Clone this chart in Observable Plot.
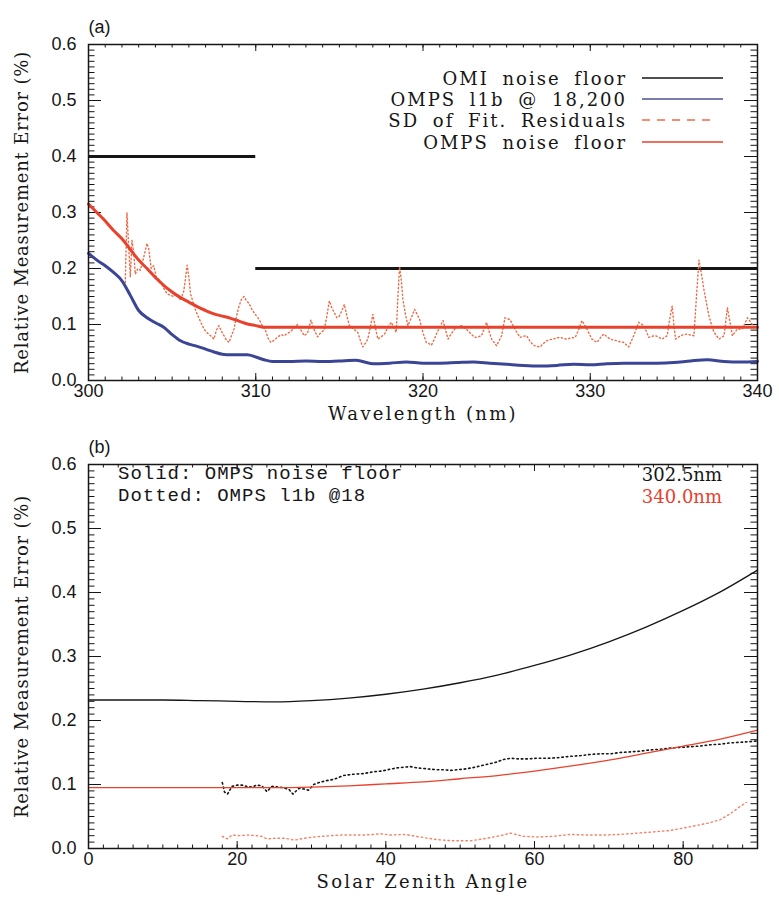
<!DOCTYPE html>
<html><head><meta charset="utf-8">
<script src="https://cdn.jsdelivr.net/npm/d3@7"></script>
<script src="https://cdn.jsdelivr.net/npm/@observablehq/plot@0.6"></script>
<style>
body{margin:0;background:#fff;}
#wrap{position:relative;width:779px;height:902px;overflow:hidden;}
#wrap svg{display:block;}
#overlay{position:absolute;left:0;top:0;pointer-events:none;}
</style></head><body><div id="wrap"></div>
<script>
// ---------- Panel (a) data ----------
const aXTicks = [300, 310, 320, 330, 340];
const yTicks = [0, 0.1, 0.2, 0.3, 0.4, 0.5, 0.6];

const omiStart = [300, 310];
const omiEnd = [310, 340];
const omiValue = [0.4, 0.2];

const floorWl = [300, 300.5, 301, 301.5, 302, 302.5, 303, 303.5, 304, 304.5, 305, 305.5, 306, 306.5, 307, 307.5, 308, 308.5, 309, 309.5, 310, 310.5, 311, 340];
const floorVal = [0.315, 0.300, 0.285, 0.268, 0.253, 0.234, 0.215, 0.200, 0.184, 0.170, 0.158, 0.148, 0.140, 0.132, 0.125, 0.119, 0.115, 0.111, 0.106, 0.101, 0.098, 0.095, 0.095, 0.095];

const l1bWl = [300, 300.5, 301, 301.5, 302, 302.5, 303, 303.5, 304, 304.5, 305, 305.5, 306, 306.5, 307, 307.5, 308, 308.5, 309, 309.5, 310, 310.5, 311, 311.5, 312, 313, 314, 315, 316, 317, 318, 319, 320, 321, 322, 323, 324, 325, 326, 327, 328, 329, 330, 331, 332, 333, 334, 335, 336, 337, 338, 339, 340];
const l1bVal = [0.227, 0.215, 0.205, 0.193, 0.178, 0.152, 0.125, 0.112, 0.103, 0.095, 0.082, 0.071, 0.065, 0.061, 0.056, 0.051, 0.047, 0.046, 0.046, 0.046, 0.042, 0.037, 0.034, 0.034, 0.034, 0.035, 0.034, 0.035, 0.036, 0.030, 0.031, 0.033, 0.031, 0.031, 0.032, 0.033, 0.031, 0.029, 0.027, 0.026, 0.027, 0.029, 0.028, 0.030, 0.031, 0.031, 0.031, 0.032, 0.035, 0.037, 0.034, 0.033, 0.034];

const residWl = [302.2, 302.3, 302.4, 302.5, 302.6, 302.7, 302.8, 302.95, 303.1, 303.3, 303.5, 303.6, 303.75, 303.9, 304.05, 304.3, 304.5, 304.7, 304.9, 305.1, 305.3, 305.5, 305.7, 305.9, 306.0, 306.1, 306.3, 306.4, 306.55, 306.7, 306.9, 307.1, 307.3, 307.5, 307.65, 307.8, 307.95, 308.1, 308.25, 308.4, 308.55, 308.7, 308.85, 309.0, 309.15, 309.3, 309.45, 309.6, 309.75, 309.9, 310.05, 310.2, 310.4, 310.6, 310.75, 310.9, 311.1, 311.3, 311.5, 311.7, 311.9, 312.1, 312.3, 312.5, 312.7, 312.9, 313.1, 313.3, 313.5, 313.7, 313.9, 314.1, 314.25, 314.4, 314.55, 314.7, 314.85, 315.0, 315.15, 315.3, 315.45, 315.6, 315.85, 316.1, 316.25, 316.4, 316.55, 316.7, 316.85, 317.0, 317.15, 317.3, 317.5, 317.7, 317.9, 318.1, 318.25, 318.4, 318.5, 318.6, 318.7, 318.8, 318.95, 319.1, 319.3, 319.5, 319.65, 319.8, 320.0, 320.2, 320.35, 320.5, 320.65, 320.8, 321.0, 321.2, 321.35, 321.5, 321.7, 321.9, 322.1, 322.3, 322.5, 322.7, 322.9, 323.1, 323.3, 323.5, 323.65, 323.8, 323.95, 324.1, 324.4, 324.7, 324.9, 325.05, 325.2, 325.35, 325.5, 325.65, 325.8, 326.0, 326.2, 326.4, 326.6, 326.8, 327.0, 327.2, 327.4, 327.6, 327.8, 328.0, 328.2, 328.4, 328.6, 328.85, 329.1, 329.3, 329.5, 329.65, 329.8, 329.95, 330.1, 330.25, 330.4, 330.6, 330.8, 331.0, 331.2, 331.4, 331.6, 331.8, 332.0, 332.15, 332.3, 332.45, 332.6, 332.75, 332.9, 333.05, 333.2, 333.35, 333.5, 333.7, 333.9, 334.1, 334.3, 334.45, 334.6, 334.75, 334.9, 335.0, 335.1, 335.25, 335.4, 335.6, 335.8, 336.0, 336.2, 336.35, 336.5, 336.65, 336.8, 336.95, 337.1, 337.25, 337.4, 337.55, 337.7, 337.85, 338.0, 338.1, 338.2, 338.35, 338.5, 338.65, 338.8, 338.95, 339.1, 339.25, 339.4, 339.6, 339.8, 340.0];
const residVal = [0.175, 0.300, 0.240, 0.185, 0.250, 0.230, 0.190, 0.200, 0.197, 0.220, 0.245, 0.235, 0.200, 0.205, 0.185, 0.178, 0.165, 0.155, 0.152, 0.150, 0.155, 0.143, 0.160, 0.206, 0.185, 0.155, 0.135, 0.126, 0.115, 0.105, 0.092, 0.085, 0.080, 0.074, 0.090, 0.098, 0.088, 0.080, 0.072, 0.068, 0.080, 0.092, 0.115, 0.133, 0.145, 0.150, 0.142, 0.138, 0.128, 0.121, 0.115, 0.109, 0.098, 0.088, 0.075, 0.068, 0.072, 0.077, 0.082, 0.080, 0.084, 0.088, 0.094, 0.100, 0.090, 0.080, 0.085, 0.108, 0.090, 0.078, 0.086, 0.090, 0.115, 0.142, 0.130, 0.121, 0.112, 0.115, 0.125, 0.136, 0.115, 0.098, 0.092, 0.086, 0.072, 0.060, 0.066, 0.074, 0.095, 0.118, 0.095, 0.074, 0.078, 0.083, 0.095, 0.104, 0.095, 0.086, 0.150, 0.203, 0.180, 0.145, 0.118, 0.098, 0.112, 0.127, 0.118, 0.109, 0.085, 0.068, 0.066, 0.063, 0.072, 0.083, 0.095, 0.107, 0.090, 0.074, 0.084, 0.092, 0.096, 0.098, 0.093, 0.089, 0.082, 0.077, 0.078, 0.080, 0.092, 0.104, 0.088, 0.074, 0.062, 0.080, 0.112, 0.110, 0.109, 0.100, 0.092, 0.084, 0.077, 0.079, 0.080, 0.070, 0.063, 0.061, 0.060, 0.066, 0.071, 0.073, 0.074, 0.076, 0.077, 0.075, 0.074, 0.076, 0.077, 0.090, 0.107, 0.100, 0.092, 0.083, 0.074, 0.071, 0.068, 0.076, 0.083, 0.078, 0.074, 0.072, 0.071, 0.069, 0.068, 0.064, 0.060, 0.070, 0.080, 0.092, 0.104, 0.101, 0.098, 0.088, 0.077, 0.079, 0.080, 0.077, 0.074, 0.077, 0.080, 0.110, 0.133, 0.100, 0.074, 0.077, 0.080, 0.082, 0.083, 0.081, 0.080, 0.150, 0.215, 0.190, 0.162, 0.138, 0.115, 0.100, 0.086, 0.080, 0.074, 0.077, 0.080, 0.105, 0.130, 0.105, 0.080, 0.086, 0.092, 0.092, 0.092, 0.102, 0.112, 0.104, 0.095, 0.097];

const legendA = ["OMI noise floor", "OMPS l1b @ 18,200", "SD of Fit. Residuals", "OMPS noise floor"];

// ---------- Panel (b) data ----------
const bXTicks = [0, 20, 40, 60, 80];
const szaSolid = [0, 5, 10, 15, 20, 25, 30, 35, 40, 45, 50, 55, 60, 65, 70, 75, 80, 85, 90];
const floor302 = [0.232, 0.232, 0.232, 0.231, 0.230, 0.229, 0.231, 0.235, 0.241, 0.249, 0.259, 0.271, 0.286, 0.303, 0.323, 0.346, 0.372, 0.401, 0.435];
const floor340 = [0.095, 0.095, 0.095, 0.095, 0.095, 0.095, 0.096, 0.098, 0.101, 0.104, 0.109, 0.114, 0.121, 0.129, 0.138, 0.149, 0.160, 0.171, 0.185];

const szaDot302 = [18.0, 18.3, 18.7, 19.3, 20.0, 20.7, 21.3, 22.0, 22.6, 23.3, 24.0, 24.7, 25.5, 26.2, 27.0, 27.5, 28.3, 29.0, 29.6, 30.3, 31.0, 32.0, 33.0, 34.3, 35.6, 37.0, 38.4, 39.5, 40.6, 41.5, 42.4, 43.3, 44.2, 45.1, 46.0, 46.9, 47.8, 48.7, 49.6, 50.5, 51.6, 52.7, 53.8, 54.9, 55.8, 56.8, 57.9, 59.0, 60.3, 61.7, 63.2, 64.8, 66.1, 67.5, 68.8, 70.2, 71.5, 72.9, 74.2, 75.5, 76.9, 78.2, 79.6, 80.9, 82.2, 83.6, 85.0, 86.3, 87.7, 89.0, 90.0];
const l1b302 = [0.103, 0.088, 0.085, 0.097, 0.099, 0.099, 0.097, 0.096, 0.099, 0.098, 0.089, 0.097, 0.096, 0.095, 0.092, 0.085, 0.094, 0.093, 0.091, 0.100, 0.103, 0.106, 0.108, 0.114, 0.116, 0.117, 0.120, 0.121, 0.124, 0.126, 0.127, 0.128, 0.126, 0.125, 0.124, 0.123, 0.123, 0.122, 0.123, 0.124, 0.126, 0.129, 0.132, 0.135, 0.139, 0.141, 0.140, 0.140, 0.141, 0.141, 0.142, 0.144, 0.145, 0.147, 0.148, 0.148, 0.150, 0.151, 0.152, 0.154, 0.155, 0.157, 0.158, 0.159, 0.160, 0.162, 0.163, 0.165, 0.166, 0.167, 0.168];

const szaDot340 = [18.0, 18.7, 19.3, 20.5, 21.5, 22.5, 23.3, 24.0, 25.2, 26.5, 27.7, 29.0, 30.3, 31.3, 32.6, 34.0, 35.4, 37.0, 38.4, 39.3, 40.6, 42.4, 44.6, 46.8, 49.0, 51.4, 53.6, 55.4, 56.8, 58.5, 60.3, 62.5, 64.8, 67.0, 69.3, 71.5, 73.8, 76.0, 78.2, 80.0, 81.8, 83.5, 85.0, 86.3, 87.7, 88.5];
const l1b340 = [0.019, 0.015, 0.021, 0.020, 0.021, 0.020, 0.019, 0.015, 0.016, 0.016, 0.013, 0.016, 0.018, 0.019, 0.020, 0.021, 0.021, 0.021, 0.022, 0.023, 0.021, 0.022, 0.018, 0.014, 0.012, 0.012, 0.016, 0.020, 0.024, 0.019, 0.018, 0.019, 0.022, 0.021, 0.021, 0.022, 0.024, 0.026, 0.028, 0.032, 0.036, 0.040, 0.045, 0.054, 0.066, 0.072];

const legendB = ["Solid: OMPS noise floor", "Dotted: OMPS l1b @18"];
const legendBWl = ["302.5nm", "340.0nm"];
const yTitle = "Relative Measurement Error (%)";

// ---------- layout / style ----------
const W = 779, ML = 88, MR = 22;
const A_H = 425, A_MT = 44, A_MB = 45;   // frame 44..380
const B_H = 477, B_MT = 39, B_MB = 54;   // frame 464..848 (page)
const plotW = W - ML - MR;
const ink = "#161616", red = "#e8412c", blue = "#3b4596", dotRed = "#ee6a44";
const sans = "'Liberation Sans', Arial, sans-serif";
const mono = "'Liberation Mono', 'DejaVu Sans Mono', monospace";
const serif = "'DejaVu Serif', serif";

function ticks(xMajor, xMinor, yMajor, yMinor, plotH) {
  const xl = 7, yl = 13;
  return [
    Plot.tickX(xMinor, {x: d => d, insetTop: plotH - xl / 2, stroke: ink}),
    Plot.tickX(xMinor, {x: d => d, insetBottom: plotH - xl / 2, stroke: ink}),
    Plot.tickX(xMajor, {x: d => d, insetTop: plotH - xl, stroke: ink}),
    Plot.tickX(xMajor, {x: d => d, insetBottom: plotH - xl, stroke: ink}),
    Plot.tickY(yMinor, {y: d => d, insetRight: plotW - yl / 2, stroke: ink}),
    Plot.tickY(yMinor, {y: d => d, insetLeft: plotW - yl / 2, stroke: ink}),
    Plot.tickY(yMajor, {y: d => d, insetRight: plotW - yl, stroke: ink}),
    Plot.tickY(yMajor, {y: d => d, insetLeft: plotW - yl, stroke: ink})
  ];
}
const yMinor = d3.range(0, 61).map(i => i / 100);

function axes(xTicks, xTitle, panel) {
  return [
    Plot.axisX(xTicks, {anchor: "bottom", tickSize: 0, tickPadding: 4, tickFormat: d => String(d), label: null, fill: ink}),
    Plot.axisY(yTicks, {anchor: "left", tickSize: 0, tickPadding: 12, tickFormat: d3.format(".1f"), label: null, fill: ink}),
    Plot.text([xTitle], {text: d => d, frameAnchor: "bottom", dy: 39, fontFamily: serif, fontSize: 18, fill: ink}),
    Plot.text([yTitle], {text: d => d, frameAnchor: "left", textAnchor: "middle", dx: -66, rotate: -90, fontFamily: serif, fontSize: 18, fill: ink}),
    Plot.text([panel], {text: d => d, frameAnchor: "top-left", dy: -24, textAnchor: "start", fontFamily: sans, fontSize: 18, fill: ink}),
    Plot.frame({stroke: ink, strokeWidth: 1.5})
  ];
}

const style = {fontFamily: sans, fontSize: "18px", color: ink, overflow: "visible", background: "transparent"};

// widen title lettering like the reference's vector font
function spaceTitles(svg, xTitle) {
  d3.select(svg).selectAll("text").each(function () {
    const t = this.textContent;
    if (t === xTitle) this.setAttribute("letter-spacing", "2.3px");
    if (t === yTitle) this.setAttribute("letter-spacing", "0.8px");
  });
}

// ---------- panel (a) ----------
const omiRows = omiValue.map((v, i) => ({x1: omiStart[i], x2: omiEnd[i], v}));
const floorRows = floorWl.map((x, i) => ({x, v: floorVal[i]}));
const l1bRows = l1bWl.map((x, i) => ({x, v: l1bVal[i]}));
const residRows = residWl.map((x, i) => ({x, v: residVal[i]}));

const chartA = Plot.plot({
  width: W, height: A_H, marginLeft: ML, marginRight: MR, marginTop: A_MT, marginBottom: A_MB,
  style,
  x: {domain: [300, 340]},
  y: {domain: [0, 0.6]},
  marks: [
    ...ticks(aXTicks, d3.range(300, 341, 1), yTicks, yMinor, A_H - A_MT - A_MB),
    Plot.ruleY(omiRows, {y: "v", x1: "x1", x2: "x2", stroke: ink, strokeWidth: 3.2}),
    Plot.line(residRows, {x: "x", y: "v", stroke: dotRed, strokeWidth: 1.4, strokeDasharray: "1.2,2.6"}),
    Plot.line(l1bRows, {x: "x", y: "v", stroke: blue, strokeWidth: 3, curve: "monotone-x"}),
    Plot.line(floorRows, {x: "x", y: "v", stroke: red, strokeWidth: 3, curve: "monotone-x"}),
    ...axes(aXTicks, "Wavelength (nm)", "(a)")
  ]
});
spaceTitles(chartA, "Wavelength (nm)");

// ---------- panel (b) ----------
const b302 = szaSolid.map((x, i) => ({x, v: floor302[i]}));
const b340 = szaSolid.map((x, i) => ({x, v: floor340[i]}));
const d302 = szaDot302.map((x, i) => ({x, v: l1b302[i]}));
const d340 = szaDot340.map((x, i) => ({x, v: l1b340[i]}));

const chartB = Plot.plot({
  width: W, height: B_H, marginLeft: ML, marginRight: MR, marginTop: B_MT, marginBottom: B_MB,
  style,
  x: {domain: [0, 90]},
  y: {domain: [0, 0.6]},
  marks: [
    ...ticks(bXTicks, d3.range(0, 91, 2), yTicks, yMinor, B_H - B_MT - B_MB),
    Plot.line(d340, {x: "x", y: "v", stroke: "#f08468", strokeWidth: 1.4, strokeDasharray: "1.5,3"}),
    Plot.line(d302, {x: "x", y: "v", stroke: ink, strokeWidth: 1.6, strokeDasharray: "1.5,3"}),
    Plot.line(b302, {x: "x", y: "v", stroke: ink, strokeWidth: 1.3, curve: "monotone-x"}),
    Plot.line(b340, {x: "x", y: "v", stroke: red, strokeWidth: 1.3, curve: "monotone-x"}),
    ...axes(bXTicks, "Solar Zenith Angle", "(b)")
  ]
});
spaceTitles(chartB, "Solar Zenith Angle");

const wrap = document.getElementById("wrap");
wrap.appendChild(chartA);
wrap.appendChild(chartB);

// ---------- legends (overlay) ----------
const ov = d3.select(wrap).append("svg").attr("id", "overlay").attr("width", W).attr("height", 902);
const rightA = W - MR;
const rowsA = [78, 99, 120, 142];
const swA = [
  {stroke: ink, dash: null},
  {stroke: "#4a5290", dash: null},
  {stroke: dotRed, dash: "8,7"},
  {stroke: red, dash: null}
];
legendA.forEach((t, i) => {
  ov.append("text").attr("x", rightA - 130).attr("y", rowsA[i]).attr("text-anchor", "end")
    .attr("dominant-baseline", "central").attr("font-family", serif).attr("font-size", 18)
    .attr("letter-spacing", "2px").attr("word-spacing", "6px").attr("fill", ink).text(t);
  ov.append("line").attr("x1", rightA - 115).attr("x2", rightA - (swA[i].dash ? 42 : 34))
    .attr("y1", rowsA[i]).attr("y2", rowsA[i]).attr("stroke", swA[i].stroke).attr("stroke-width", 1.5)
    .attr("stroke-dasharray", swA[i].dash);
});
const topB = A_H + B_MT;
const rowsB = [topB + 10, topB + 32];
legendB.forEach((t, i) => {
  ov.append("text").attr("x", ML + 30).attr("y", rowsB[i]).attr("dominant-baseline", "central")
    .attr("font-family", mono).attr("font-size", 19).attr("letter-spacing", "1px")
    .attr("fill", ink).text(t);
  ov.append("text").attr("x", rightA - 35).attr("y", rowsB[i]).attr("text-anchor", "end")
    .attr("dominant-baseline", "central").attr("font-family", serif).attr("font-size", 18)
    .attr("fill", i === 0 ? ink : red).text(legendBWl[i]);
});
</script></body></html>
